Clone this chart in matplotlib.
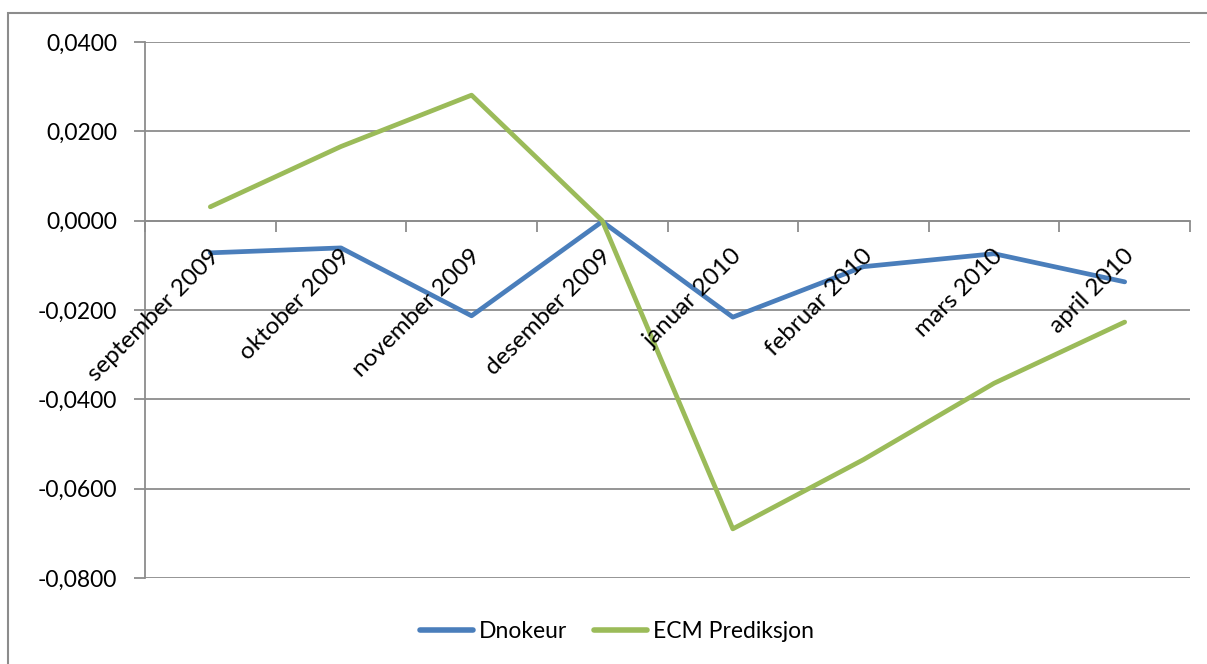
import matplotlib.pyplot as plt
import numpy as np
from matplotlib.patches import Rectangle

# data
months = ['september 2009', 'oktober 2009', 'november 2009', 'desember 2009',
          'januar 2010', 'februar 2010', 'mars 2010', 'april 2010']
dnokeur = [-0.0072, -0.0061, -0.0213, -0.0002, -0.0216, -0.0103, -0.0074, -0.0137]
ecm = [0.0031, 0.0166, 0.0281, 0.0000, -0.0690, -0.0535, -0.0364, -0.0227]
yticks = [0.04, 0.02, 0.0, -0.02, -0.04, -0.06, -0.08]

plt.rcParams['font.family'] = ['Lato', 'DejaVu Sans']
grid_col = '#8c8c8c'

fig = plt.figure(figsize=(12.07, 6.64), dpi=100)
ax = fig.add_axes([145 / 1207, 1 - 578 / 664, (1190 - 145) / 1207, (578 - 42) / 664])

x = np.arange(len(months))
ax.plot(x, dnokeur, color='#4a7ebb', lw=3.4, solid_capstyle='round', label='Dnokeur', zorder=3)
ax.plot(x, ecm, color='#9bbb59', lw=3.4, solid_capstyle='round', label='ECM Prediksjon', zorder=3)

ax.set_xlim(-0.5, len(months) - 0.5)
ax.set_ylim(-0.08, 0.04)
ax.set_yticks(yticks)
ax.set_yticklabels([('%.4f' % v).replace('.', ',') for v in yticks], fontsize=16.5)
ax.yaxis.grid(True, color=grid_col, lw=1.3)
ax.tick_params(axis='y', length=8, color=grid_col, width=1.3, pad=12)

for s in ['top', 'right']:
    ax.spines[s].set_visible(False)
ax.spines['left'].set_color(grid_col)
ax.spines['left'].set_linewidth(1.3)
ax.spines['bottom'].set_position(('data', 0))
ax.spines['bottom'].set_color(grid_col)
ax.spines['bottom'].set_linewidth(1.3)
ax.set_xticks(np.arange(-0.5, len(months), 1.0))
ax.set_xticklabels([])
ax.tick_params(axis='x', direction='out', length=8, color=grid_col, width=1.3)

for xi, m in zip(x, months):
    ax.annotate(m, (xi, 0), xytext=(4, -23), textcoords='offset points',
                rotation=45, ha='right', va='center', rotation_mode='anchor', fontsize=17.5)

leg = fig.legend(loc='center', bbox_to_anchor=(0.511, 1 - 632 / 664), ncol=2, frameon=False,
                 fontsize=16.5, handlelength=2.3, columnspacing=1.2, handletextpad=0.25)
for h in leg.get_lines():
    h.set_linewidth(4)

fig.patches.append(Rectangle((8 / 1207, -0.1), 1.2, 1 - 13 / 664 + 0.1, transform=fig.transFigure,
                             fill=False, edgecolor='#8c8c8c', lw=1.5))

fig.savefig('out.png', dpi=100)
